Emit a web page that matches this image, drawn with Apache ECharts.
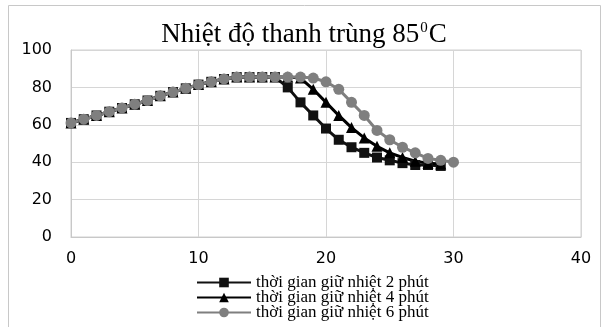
<!DOCTYPE html>
<html>
<head>
<meta charset="utf-8">
<script src="https://cdn.jsdelivr.net/npm/echarts@6/dist/echarts.min.js"></script>
<style>html,body{margin:0;padding:0;background:#fff;}#c{width:608px;height:327px;}</style>
</head>
<body>
<div id="c"></div>
<script>
var titleMain = 'Nhiệt độ thanh trùng 85';
var titleSup = '0';
var titleEnd = 'C';
var seriesNames = ['thời gian giữ nhiệt 2 phút', 'thời gian giữ nhiệt 4 phút', 'thời gian giữ nhiệt 6 phút'];
var times = [0,1,2,3,4,5,6,7,8,9,10,11,12,13,14,15,16,17,18,19,20,21,22,23,24,25,26,27,28,29,30];
var hold2 = [61,63,65,67,69,71,73,75.5,77.5,79.5,81.5,83,84.5,85.5,85.5,85.5,85.5,80,72,65,58,52,48,45,42.5,41,39.5,38.5,38.5,38];
var hold4 = [61,63,65,67,69,71,73,75.5,77.5,79.5,81.5,83,84.5,85.5,85.5,85.5,85.5,85.5,85,79,72,65,58.5,53,48.5,45,42.5,40.5,39.5,39];
var hold6 = [61,63,65,67,69,71,73,75.5,77.5,79.5,81.5,83,84.5,85.5,85.5,85.5,85.5,85.5,85.5,85,83,79,72,65,57,52,48,45,42,41,40];
var xTicks = [0,10,20,30,40];
var yTicks = [0,20,40,60,80,100];

function pairs(vals){ return vals.map(function(v,i){ return [times[i], v]; }); }

var chart = echarts.init(document.getElementById('c'), null, {renderer:'canvas'});
chart.setOption({
  animation: false,
  backgroundColor: '#fff',
  graphic: [{
    type: 'rect',
    shape: {x: 8.5, y: 5.5, width: 592, height: 340},
    style: {fill: 'none', stroke: '#c8c8c8', lineWidth: 1},
    silent: true
  }],
  title: {
    text: '{a|' + titleMain + '}{s|' + titleSup + '}{a|' + titleEnd + '}',
    left: 'center',
    top: 14,
    textStyle: {
      fontWeight: 'normal',
      rich: {
        a: {fontFamily: 'Liberation Serif', fontSize: 27, fontWeight: 'normal', color: '#000', lineHeight: 29, verticalAlign: 'bottom'},
        s: {fontFamily: 'Liberation Serif', fontSize: 15, fontWeight: 'normal', color: '#000', lineHeight: 29, verticalAlign: 'bottom', padding: [0, 1, 12, 1]}
      }
    }
  },
  grid: {left: 71, right: 27, top: 50, bottom: 90, show: true, borderColor: '#d0d0d0', borderWidth: 1},
  xAxis: {
    type: 'value', min: xTicks[0], max: xTicks[xTicks.length-1], interval: 10,
    axisLine: {show: true, lineStyle: {color: '#c8c8c8'}},
    axisTick: {show: false},
    splitLine: {show: true, lineStyle: {color: '#d6d6d6'}},
    axisLabel: {margin: 14, fontFamily: 'DejaVu Sans', fontSize: 16, color: '#000'}
  },
  yAxis: {
    type: 'value', min: yTicks[0], max: yTicks[yTicks.length-1], interval: 20,
    axisLine: {show: true, lineStyle: {color: '#c8c8c8'}},
    axisTick: {show: false},
    splitLine: {show: true, lineStyle: {color: '#d6d6d6'}},
    axisLabel: {margin: 19, fontFamily: 'DejaVu Sans', fontSize: 16, color: '#000'}
  },
  legend: {
    orient: 'vertical', left: 196, top: 274, height: 60, padding: 0,
    itemWidth: 54, itemHeight: 12, itemGap: -2,
    textStyle: {fontFamily: 'Liberation Serif', fontSize: 17, color: '#000', lineHeight: 15},
    data: seriesNames
  },
  series: [
    {name: seriesNames[0], type: 'line', data: pairs(hold2), symbol: 'rect', symbolSize: 10,
     lineStyle: {color: '#111', width: 3}, itemStyle: {color: '#111'}},
    {name: seriesNames[1], type: 'line', data: pairs(hold4), symbol: 'triangle', symbolSize: 11,
     lineStyle: {color: '#000', width: 3}, itemStyle: {color: '#000'}},
    {name: seriesNames[2], type: 'line', data: pairs(hold6), symbol: 'circle', symbolSize: 11,
     lineStyle: {color: '#7f7f7f', width: 3}, itemStyle: {color: '#7f7f7f'}}
  ]
});
</script>
</body>
</html>
